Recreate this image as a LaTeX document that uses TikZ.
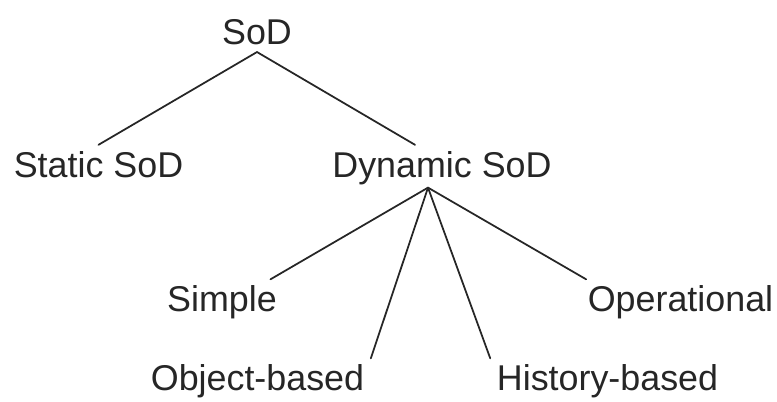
\documentclass[tikz,border=0pt]{standalone}
\usepackage{fontspec}
\setmainfont{Liberation Sans}
\usepackage{tikz}
\definecolor{ink}{HTML}{262626}
\tikzset{
  every picture/.style={line join=round, line cap=round},
  label/.style={font=\fontsize{10.2pt}{12pt}\selectfont, text=ink, inner sep=0.06cm, anchor=base},
  branch/.style={draw=ink, line width=0.5pt},
}

\begin{document}
\begin{tikzpicture}
\useasboundingbox (0,0) rectangle (7.770,4.020);
% levels of the tree
\node[label] (sod) at (2.570,3.570) {SoD};
\node[label] (ssod) at (0.985,2.245) {Static SoD};
\node[label] (dsod) at (4.420,2.245) {Dynamic SoD};
\node[label] (simple) at (2.220,0.900) {Simple};
\node[label] (opr) at (6.805,0.900) {Operational};
\node[label] (obj) at (2.575,0.110) {Object-based};
\node[label] (hist) at (6.075,0.110) {History-based};
\coordinate (fan) at ([xshift=-0.14cm,yshift=0.04cm]dsod.south);
% branches
\draw[branch] (sod.south) -- (ssod.north);
\draw[branch] (sod.south) -- ([xshift=-0.27cm]dsod.north);
\draw[branch] (fan) -- ([xshift=-0.13cm]simple.north east);
\draw[branch] (fan) -- (obj.north east);
\draw[branch] (fan) -- (hist.north west);
\draw[branch] (fan) -- ([xshift=0.05cm]opr.north west);
\end{tikzpicture}
\end{document}
